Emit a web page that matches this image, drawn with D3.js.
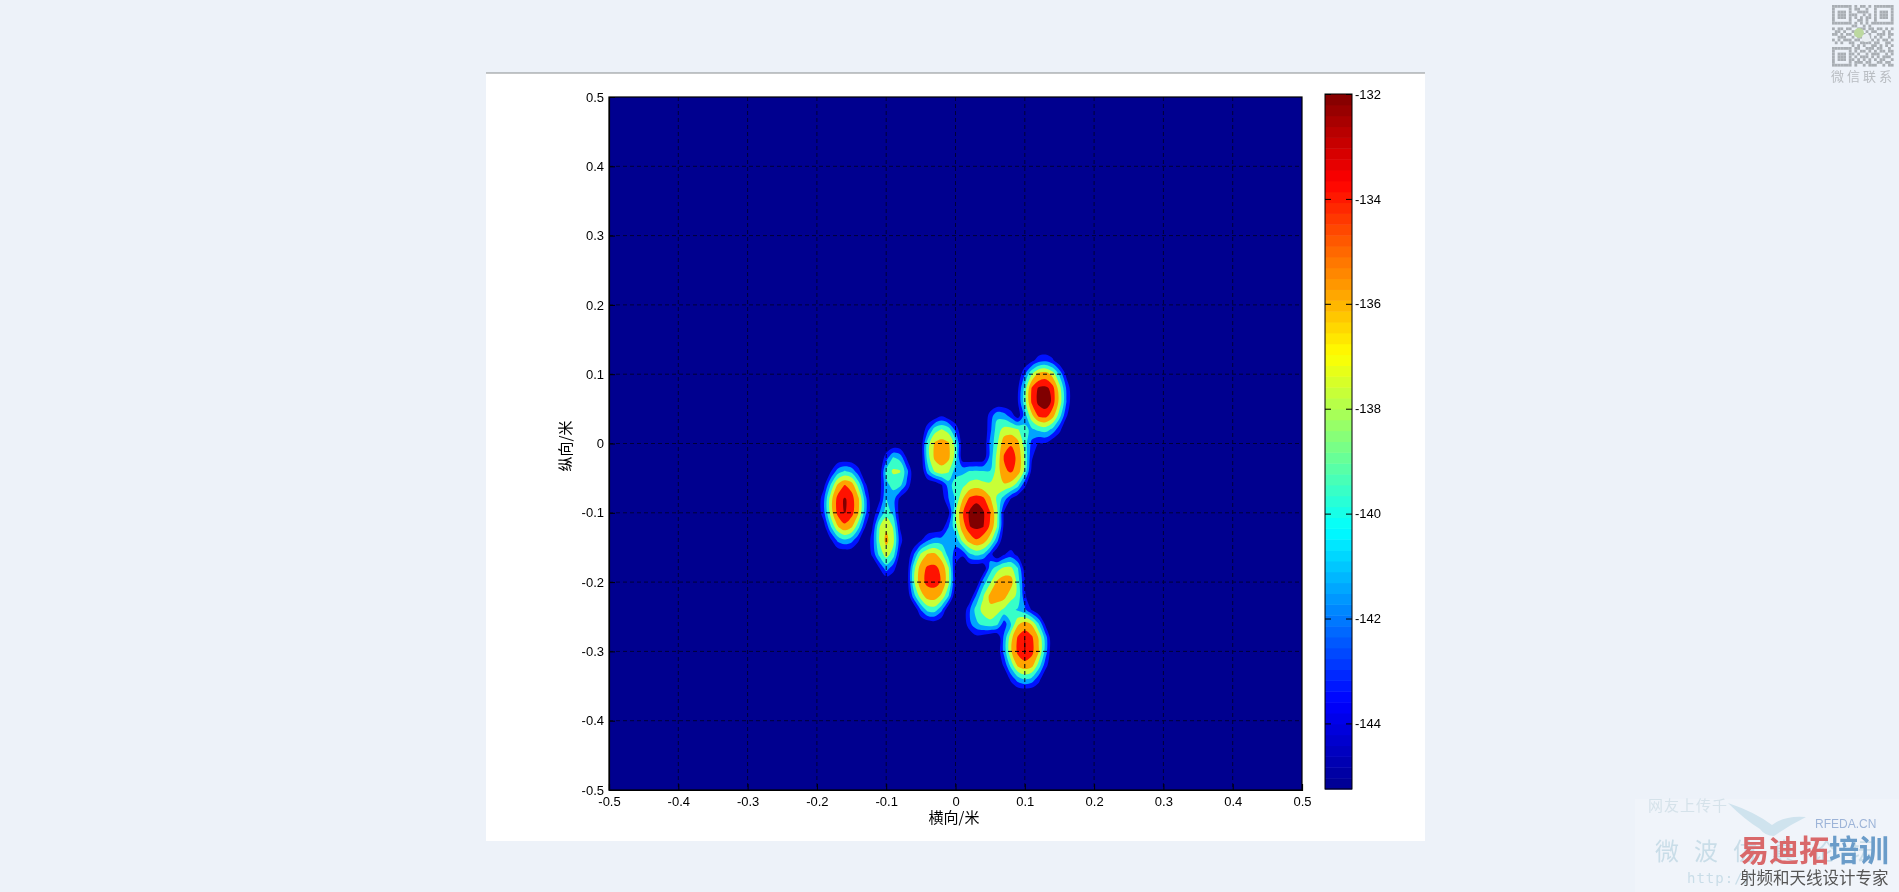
<!DOCTYPE html>
<html>
<head>
<meta charset="utf-8">
<script src="https://cdn.jsdelivr.net/npm/d3@7"></script>
<style>
  body { margin: 0; background: #edf2f9; }
  svg { display: block; }
  text { font-family: "Liberation Sans", Arial, sans-serif; fill: #000; }
  .cjk { font-family: "Noto Sans CJK SC", sans-serif; }
</style>
</head>
<body>
<div id="chart"></div>
<script>
// Tick labels
const xTicks = [-0.5, -0.4, -0.3, -0.2, -0.1, 0, 0.1, 0.2, 0.3, 0.4, 0.5];
const yTicks = [-0.5, -0.4, -0.3, -0.2, -0.1, 0, 0.1, 0.2, 0.3, 0.4, 0.5];
const barTicks = [-132, -134, -136, -138, -140, -142, -144];
const xLabel = "横向/米";
const yLabel = "纵向/米";

// Colour range of the colorbar and the filled contour levels
const zRange = [-145.25, -132];
const contourLevels = [-143.35, -141.45, -139.55, -137.65, -135.75, -133.85, -132.75];

// Field, grid of 0.01 in x and 0.02 in y.
// Each entry: [y, first x, values]. Anything not listed is the floor value.
const gridX = d3.range(-20, 18).map((i) => i / 100);
const gridY = d3.range(14, -40, -2).map((i) => i / 100);
const zSegments = [
  [0.12, 0.11, [-144, -142.4, -142, -143, -145]],
  [0.1, 0.1, [-141.5, -137.65, -135, -134.6, -136.4, -139.9, -143.9]],
  [0.08, 0.09, [-143.7, -138.8, -133.7, -132.6, -132.5, -133.1, -136.8, -141.7]],
  [0.06, 0.09, [-143.4, -138.4, -133.5, -132.5, -132.3, -132.9, -136.3, -141.4]],
  [0.04, -0.03, [-144.8, -143.5, -144.8]],
  [0.04, 0.05, [-142.5, -140, -140.5, -142.3, -144.5, -140.5, -136.3, -133.5, -133.2, -134.9, -138.7, -143.1]],
  [0.02, -0.04, [-142, -138.5, -137.5, -138.5, -142]],
  [0.02, 0.05, [-142, -138.5, -137, -136.8, -137.5, -139, -140, -139.1, -138.7, -140.1, -142.8]],
  [0, -0.05, [-144.8, -138.4, -135.5, -135, -135.5, -138.4, -144.8]],
  [0, 0.05, [-141, -138, -134.5, -134, -135.2, -138.5, -142, -143.5, -143.5, -145]],
  [-0.02, -0.1, [-142.5, -139.5, -140.3, -143.8]],
  [-0.02, -0.05, [-144.8, -138.4, -135.3, -134.8, -135.3, -138.4, -144.8]],
  [-0.02, 0.04, [-144.8, -140.8, -137, -133.7, -133.2, -134.2, -137.8, -143]],
  [-0.04, -0.18, [-143.5, -140.6, -139.4, -140.2, -142.7]],
  [-0.04, -0.11, [-145, -139, -137.3, -137.5, -140.8, -145]],
  [-0.04, -0.04, [-140.5, -137.4, -136.4, -137.4, -140.5, -140, -139.5, -139.3, -139.5, -139.5, -136.8, -134.2, -133.6, -134.6, -138.2, -144]],
  [-0.06, -0.19, [-144, -139.4, -135.4, -133.8, -134.6, -138.4, -143]],
  [-0.06, -0.11, [-144.5, -140, -139, -139, -142]],
  [-0.06, -0.02, [-143.5, -140.5, -138.5, -138.2, -137, -136.5, -137, -137.2, -136.8, -136, -136.5, -138.8, -143, -145]],
  [-0.08, -0.19, [-141.8, -136.5, -133.2, -132.65, -133.1, -135.4, -140.7]],
  [-0.08, -0.11, [-144, -139.5, -140.5, -144]],
  [-0.08, -0.02, [-144.5, -141.5, -139.3, -135.9, -133.5, -133, -133.4, -135.5, -138, -140.5, -143.5]],
  [-0.1, -0.19, [-142, -136.7, -133.3, -132.7, -133.15, -135.6, -140.9]],
  [-0.1, -0.12, [-145, -141.5, -138.5, -140, -144.5]],
  [-0.1, -0.01, [-144, -137.8, -134, -132.6, -132.2, -132.6, -133.75, -137.3, -143.7]],
  [-0.12, -0.19, [-144.3, -139.7, -135.9, -134.2, -135.4, -139, -143.35]],
  [-0.12, -0.12, [-143.5, -137.8, -136, -137.8, -143.5]],
  [-0.12, -0.02, [-144.5, -141.5, -138.3, -134.7, -132.8, -132.5, -132.7, -134.1, -137.65, -144]],
  [-0.14, -0.18, [-143.8, -141.1, -140, -140.8, -143.2]],
  [-0.14, -0.12, [-142.5, -137.5, -135.2, -137, -142.5]],
  [-0.14, -0.05, [-143.5, -141.5, -140.5, -140.5, -140, -141, -137.2, -135, -134, -134.7, -136.9, -140.9]],
  [-0.16, -0.12, [-143, -139, -136.8, -138.5, -144]],
  [-0.16, -0.06, [-141.5, -137.3, -135.5, -135.3, -137, -140.5, -142, -143, -140, -139, -139.7, -142.4]],
  [-0.16, 0.07, [-143.5, -142.5, -144]],
  [-0.18, -0.11, [-143.5, -140.5, -142.5]],
  [-0.18, -0.07, [-144.7, -138.2, -134.7, -133.5, -133.4, -134.3, -137.4, -144]],
  [-0.18, 0.05, [-140.5, -138.5, -137.2, -137.2, -139.5, -144.5]],
  [-0.2, -0.07, [-144.5, -137.9, -134.4, -133.4, -133.3, -134, -137.1, -143.8]],
  [-0.2, 0.04, [-140.5, -138, -135.4, -134.6, -134.8, -138.5, -143.35]],
  [-0.22, -0.06, [-140.3, -136.6, -134.8, -134.7, -136.2, -139.5]],
  [-0.22, 0.03, [-141.2, -137.8, -135.2, -134.7, -135, -137, -138, -143]],
  [-0.24, -0.05, [-141.4, -138.8, -138.6, -141]],
  [-0.24, 0.02, [-141.8, -138.7, -137, -136.2, -137, -138, -139, -139.8, -141, -143.5]],
  [-0.26, -0.04, [-144.8, -144.5]],
  [-0.26, 0.02, [-142, -140, -138.8, -138.3, -139, -142.5, -139.55, -136.1, -134.9, -136, -139.55, -144]],
  [-0.28, 0.03, [-144, -144.5]],
  [-0.28, 0.07, [-141, -136.4, -133.6, -132.74, -133.5, -135.9, -140.5]],
  [-0.3, 0.07, [-140.8, -136, -133.4, -132.72, -133.3, -135.6, -140.5]],
  [-0.32, 0.07, [-143, -138.8, -135.3, -134.4, -135, -138.4, -142.6]],
  [-0.34, 0.08, [-142.9, -140.4, -139.3, -140.1, -142.6]],
];

// Dimensions of the page, panel, plot and colorbar
const width = 1899;
const height = 892;
const panel = { left: 486, right: 1425, top: 73, bottom: 841 };
const plot = { left: 609, right: 1302, top: 97, bottom: 790 };
const bar = { left: 1325, right: 1352, top: 94, bottom: 789 };

const svg = d3
  .select("#chart")
  .append("svg")
  .attr("width", width)
  .attr("height", height);

// White panel with its grey top rule
svg
  .append("rect")
  .attr("x", panel.left)
  .attr("y", panel.top)
  .attr("width", panel.right - panel.left)
  .attr("height", panel.bottom - panel.top)
  .attr("fill", "#fff");
svg
  .append("line")
  .attr("x1", panel.left)
  .attr("x2", panel.right)
  .attr("y1", panel.top)
  .attr("y2", panel.top)
  .attr("stroke", "#8a8d90")
  .attr("stroke-width", 1.2);

// Define scales
const xScale = d3.scaleLinear().domain([-0.5, 0.5]).range([plot.left, plot.right]);
const yScale = d3.scaleLinear().domain([-0.5, 0.5]).range([plot.bottom, plot.top]);
const barScale = d3.scaleLinear().domain(zRange).range([bar.bottom, bar.top]);

// Jet colormap
const jet = d3
  .scaleLinear()
  .domain([0, 0.125, 0.375, 0.625, 0.875, 1])
  .range(["#00008f", "#0000ff", "#00ffff", "#ffff00", "#ff0000", "#800000"]);

// Fill the grid from the segments
const nx = gridX.length;
const ny = gridY.length;
const zValues = new Array(nx * ny).fill(zRange[0]);
zSegments.forEach(([y, x0, values]) => {
  const j = Math.round((gridY[0] - y) / 0.02);
  const i0 = Math.round((x0 - gridX[0]) / 0.01);
  values.forEach((v, k) => {
    zValues[j * nx + i0 + k] = v;
  });
});

// Background band, then one filled contour per level
svg
  .append("rect")
  .attr("x", plot.left)
  .attr("y", plot.top)
  .attr("width", plot.right - plot.left)
  .attr("height", plot.bottom - plot.top)
  .attr("fill", jet(0));

const contours = d3.contours().size([nx, ny]).thresholds(contourLevels)(zValues);

// Rings go through the scales, then a closed curve rounds off the grid corners
const ringLine = d3
  .line()
  .x((p) => xScale(gridX[0] + (p[0] - 0.5) * 0.01))
  .y((p) => yScale(gridY[0] - (p[1] - 0.5) * 0.02))
  .curve(d3.curveCatmullRomClosed.alpha(0.5));
const contourPath = (d) =>
  d.coordinates
    .flatMap((polygon) => polygon.map((ring) => ringLine(ring.slice(0, -1))))
    .join("");

svg
  .append("g")
  .selectAll("path")
  .data(contours)
  .enter()
  .append("path")
  .attr("d", contourPath)
  .attr("fill-rule", "evenodd")
  .attr("fill", (d, i) => jet((i + 1) / contourLevels.length));

// Dashed grid, "darken" keeps it faint on the dark blue and black on bright bands
const grid = svg
  .append("g")
  .attr("stroke", "#000038")
  .attr("stroke-width", 1)
  .attr("stroke-dasharray", "4,3")
  .style("mix-blend-mode", "darken");
grid
  .selectAll(".gx")
  .data(xTicks.slice(1, -1))
  .enter()
  .append("line")
  .attr("x1", (d) => xScale(d))
  .attr("x2", (d) => xScale(d))
  .attr("y1", plot.top)
  .attr("y2", plot.bottom);
grid
  .selectAll(".gy")
  .data(yTicks.slice(1, -1))
  .enter()
  .append("line")
  .attr("y1", (d) => yScale(d))
  .attr("y2", (d) => yScale(d))
  .attr("x1", plot.left)
  .attr("x2", plot.right);

// Axes, ticks point inwards
const plainNumber = (d) => String(d);
const xAxis = d3.axisBottom(xScale).tickValues(xTicks).tickFormat(plainNumber).tickSize(-6).tickPadding(7);
const yAxis = d3.axisLeft(yScale).tickValues(yTicks).tickFormat(plainNumber).tickSize(-6).tickPadding(5);
const xG = svg.append("g").attr("transform", `translate(0, ${plot.bottom})`).call(xAxis);
const yG = svg.append("g").attr("transform", `translate(${plot.left}, 0)`).call(yAxis);
[xG, yG].forEach((g) => {
  g.selectAll("text")
    .style("font-size", "13px")
    .style("font-family", '"Liberation Sans", Arial, sans-serif')
    .attr("fill", "#000");
  g.select(".domain").attr("stroke-width", 1.2);
});

// Box around the plot
svg
  .append("rect")
  .attr("x", plot.left)
  .attr("y", plot.top)
  .attr("width", plot.right - plot.left)
  .attr("height", plot.bottom - plot.top)
  .attr("fill", "none")
  .attr("stroke", "#000")
  .attr("stroke-width", 1.2);

// Axis labels
svg
  .append("text")
  .attr("class", "cjk")
  .attr("x", 954)
  .attr("y", 823)
  .style("text-anchor", "middle")
  .style("font-size", "15px")
  .text(xLabel);
svg
  .append("text")
  .attr("class", "cjk")
  .attr("transform", "translate(571, 446) rotate(-90)")
  .style("text-anchor", "middle")
  .style("font-size", "15px")
  .text(yLabel);

// Colorbar, 64 steps of the colormap
const barSteps = d3.range(64);
svg
  .append("g")
  .selectAll("rect")
  .data(barSteps)
  .enter()
  .append("rect")
  .attr("x", bar.left)
  .attr("width", bar.right - bar.left)
  .attr("y", (d) => barScale(zRange[0] + ((d + 1) / 64) * (zRange[1] - zRange[0])))
  .attr("height", (bar.bottom - bar.top) / 64 + 0.5)
  .attr("fill", (d) => jet((d + 0.5) / 64));
svg
  .append("rect")
  .attr("x", bar.left)
  .attr("y", bar.top)
  .attr("width", bar.right - bar.left)
  .attr("height", bar.bottom - bar.top)
  .attr("fill", "none")
  .attr("stroke", "#000")
  .attr("stroke-width", 1);

const barAxis = d3.axisRight(barScale).tickValues(barTicks).tickFormat(plainNumber).tickSize(-6).tickPadding(-1);
const barG = svg.append("g").attr("transform", `translate(${bar.right}, 0)`).call(barAxis);
barG.select(".domain").remove();
barG
  .selectAll("text")
  .attr("x", 3)
  .style("font-size", "13px")
  .style("font-family", '"Liberation Sans", Arial, sans-serif')
  .attr("fill", "#000");
const barAxisLeft = d3.axisLeft(barScale).tickValues(barTicks).tickFormat("").tickSize(-6);
const barGL = svg.append("g").attr("transform", `translate(${bar.left}, 0)`).call(barAxisLeft);
barGL.select(".domain").remove();

// Site overlays: QR block in the top right corner
const qrRows = [
  "1111111010110101111111",
  "1000001011001001000001",
  "1011101001111001011101",
  "1011101110010101011101",
  "1011101010101101011101",
  "1000001001101001000001",
  "1111111010101011111111",
  "0000000110010100000000",
  "1011011001110110110101",
  "0110100111001011001010",
  "1101011010110100111011",
  "0011100101101101010010",
  "1010111011010010101101",
  "0101001100111101100110",
  "0000000101010011010101",
  "1111111011001110110010",
  "1000001010110101011011",
  "1011101101001011100101",
  "1011101010111010101110",
  "1011101101010101011001",
  "1000001011101100110110",
  "1111111010010111001011",
];
const qr = svg.append("g").attr("fill", "#a9aeb4");
qrRows.forEach((row, j) => {
  row.split("").forEach((c, i) => {
    if (c === "1") {
      qr.append("rect")
        .attr("x", 1832 + i * 2.8)
        .attr("y", 5 + j * 2.8)
        .attr("width", 2.8)
        .attr("height", 2.8);
    }
  });
});
svg.append("circle").attr("cx", 1859).attr("cy", 33).attr("r", 5).attr("fill", "#bcd8a0");
svg.append("circle").attr("cx", 1866).attr("cy", 38).attr("r", 4).attr("fill", "#e8edf2");
svg
  .append("text")
  .attr("class", "cjk")
  .attr("x", 1831)
  .attr("y", 81)
  .style("font-size", "13px")
  .style("letter-spacing", "3px")
  .style("fill", "#b9bdc2")
  .text("微信联系");

// Site overlays: watermark in the bottom right corner
svg
  .append("rect")
  .attr("x", 1635)
  .attr("y", 799)
  .attr("width", 264)
  .attr("height", 93)
  .attr("fill", "#f0f4fa");
svg
  .append("path")
  .attr("d", "M1728 803 Q1755 812 1772 825 Q1785 815 1806 817 Q1788 826 1774 836 Q1765 836 1760 829 Q1745 820 1728 803 Z")
  .attr("fill", "#cfe3ee");
svg
  .append("text")
  .attr("class", "cjk")
  .attr("x", 1648)
  .attr("y", 811)
  .style("font-size", "15px")
  .style("letter-spacing", "1px")
  .style("fill", "#d5e2ea")
  .text("网友上传千");
svg
  .append("text")
  .attr("class", "cjk")
  .attr("x", 1655)
  .attr("y", 860)
  .style("font-size", "24px")
  .style("letter-spacing", "15px")
  .style("fill", "#c9dde8")
  .text("微波仿真论坛");
svg
  .append("text")
  .attr("x", 1687)
  .attr("y", 883)
  .style("font-family", '"DejaVu Sans Mono", monospace')
  .style("font-size", "14px")
  .style("letter-spacing", "1px")
  .style("fill", "#c9dde8")
  .text("http://");
svg
  .append("text")
  .attr("x", 1815)
  .attr("y", 828)
  .style("font-size", "12px")
  .style("fill", "#9db4d8")
  .text("RFEDA.CN");
const brand = svg
  .append("text")
  .attr("class", "cjk")
  .attr("x", 1739)
  .attr("y", 861)
  .style("font-size", "30px")
  .style("font-weight", "700");
brand.append("tspan").style("fill", "#d9686a").text("易迪拓");
brand.append("tspan").style("fill", "#6a9cc9").text("培训");
svg
  .append("text")
  .attr("class", "cjk")
  .attr("x", 1740)
  .attr("y", 884)
  .style("font-size", "16.5px")
  .style("fill", "#555")
  .text("射频和天线设计专家");
</script>
</body>
</html>
